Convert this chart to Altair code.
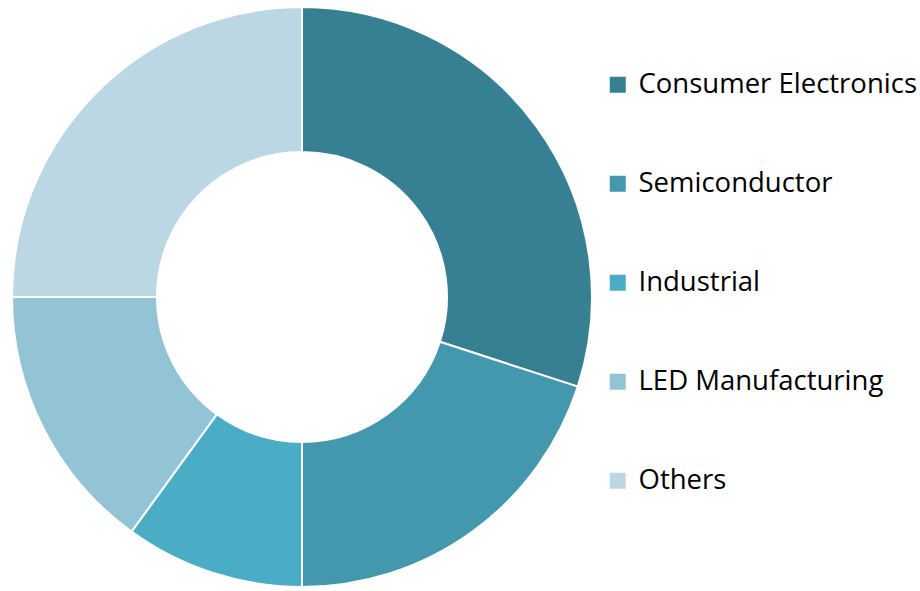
import altair as alt
import pandas as pd

categories = ["Consumer Electronics", "Semiconductor", "Industrial", "LED Manufacturing", "Others"]
shares = [30, 20, 10, 15, 25]
colors = ["#377F93", "#4398AE", "#4BACC6", "#93C4D5", "#BBD7E3"]

df = pd.DataFrame({"category": categories, "share": shares, "order": list(range(len(categories)))})

chart = alt.Chart(df).mark_arc(
    outerRadius=290, innerRadius=145, stroke="white", strokeWidth=2
).encode(
    theta=alt.Theta("share:Q", stack=True),
    order=alt.Order("order:Q"),
    x=alt.value(302),
    y=alt.value(297),
    color=alt.Color(
        "category:N",
        scale=alt.Scale(domain=categories, range=colors),
        legend=alt.Legend(
            title=None,
            orient="none",
            legendX=604,
            legendY=71,
            symbolType="square",
            symbolSize=256,
            symbolStrokeWidth=0,
            labelFont="Open Sans",
            labelFontSize=27.5,
            labelColor="black",
            labelLimit=400,
            labelOffset=7,
            rowPadding=70,
        ),
    ),
).properties(
    width=920, height=591, padding=0, autosize=alt.AutoSizeParams(type="none")
).configure_view(stroke=None)

chart.save("out.html", embed_options={"renderer": "svg", "actions": False})
